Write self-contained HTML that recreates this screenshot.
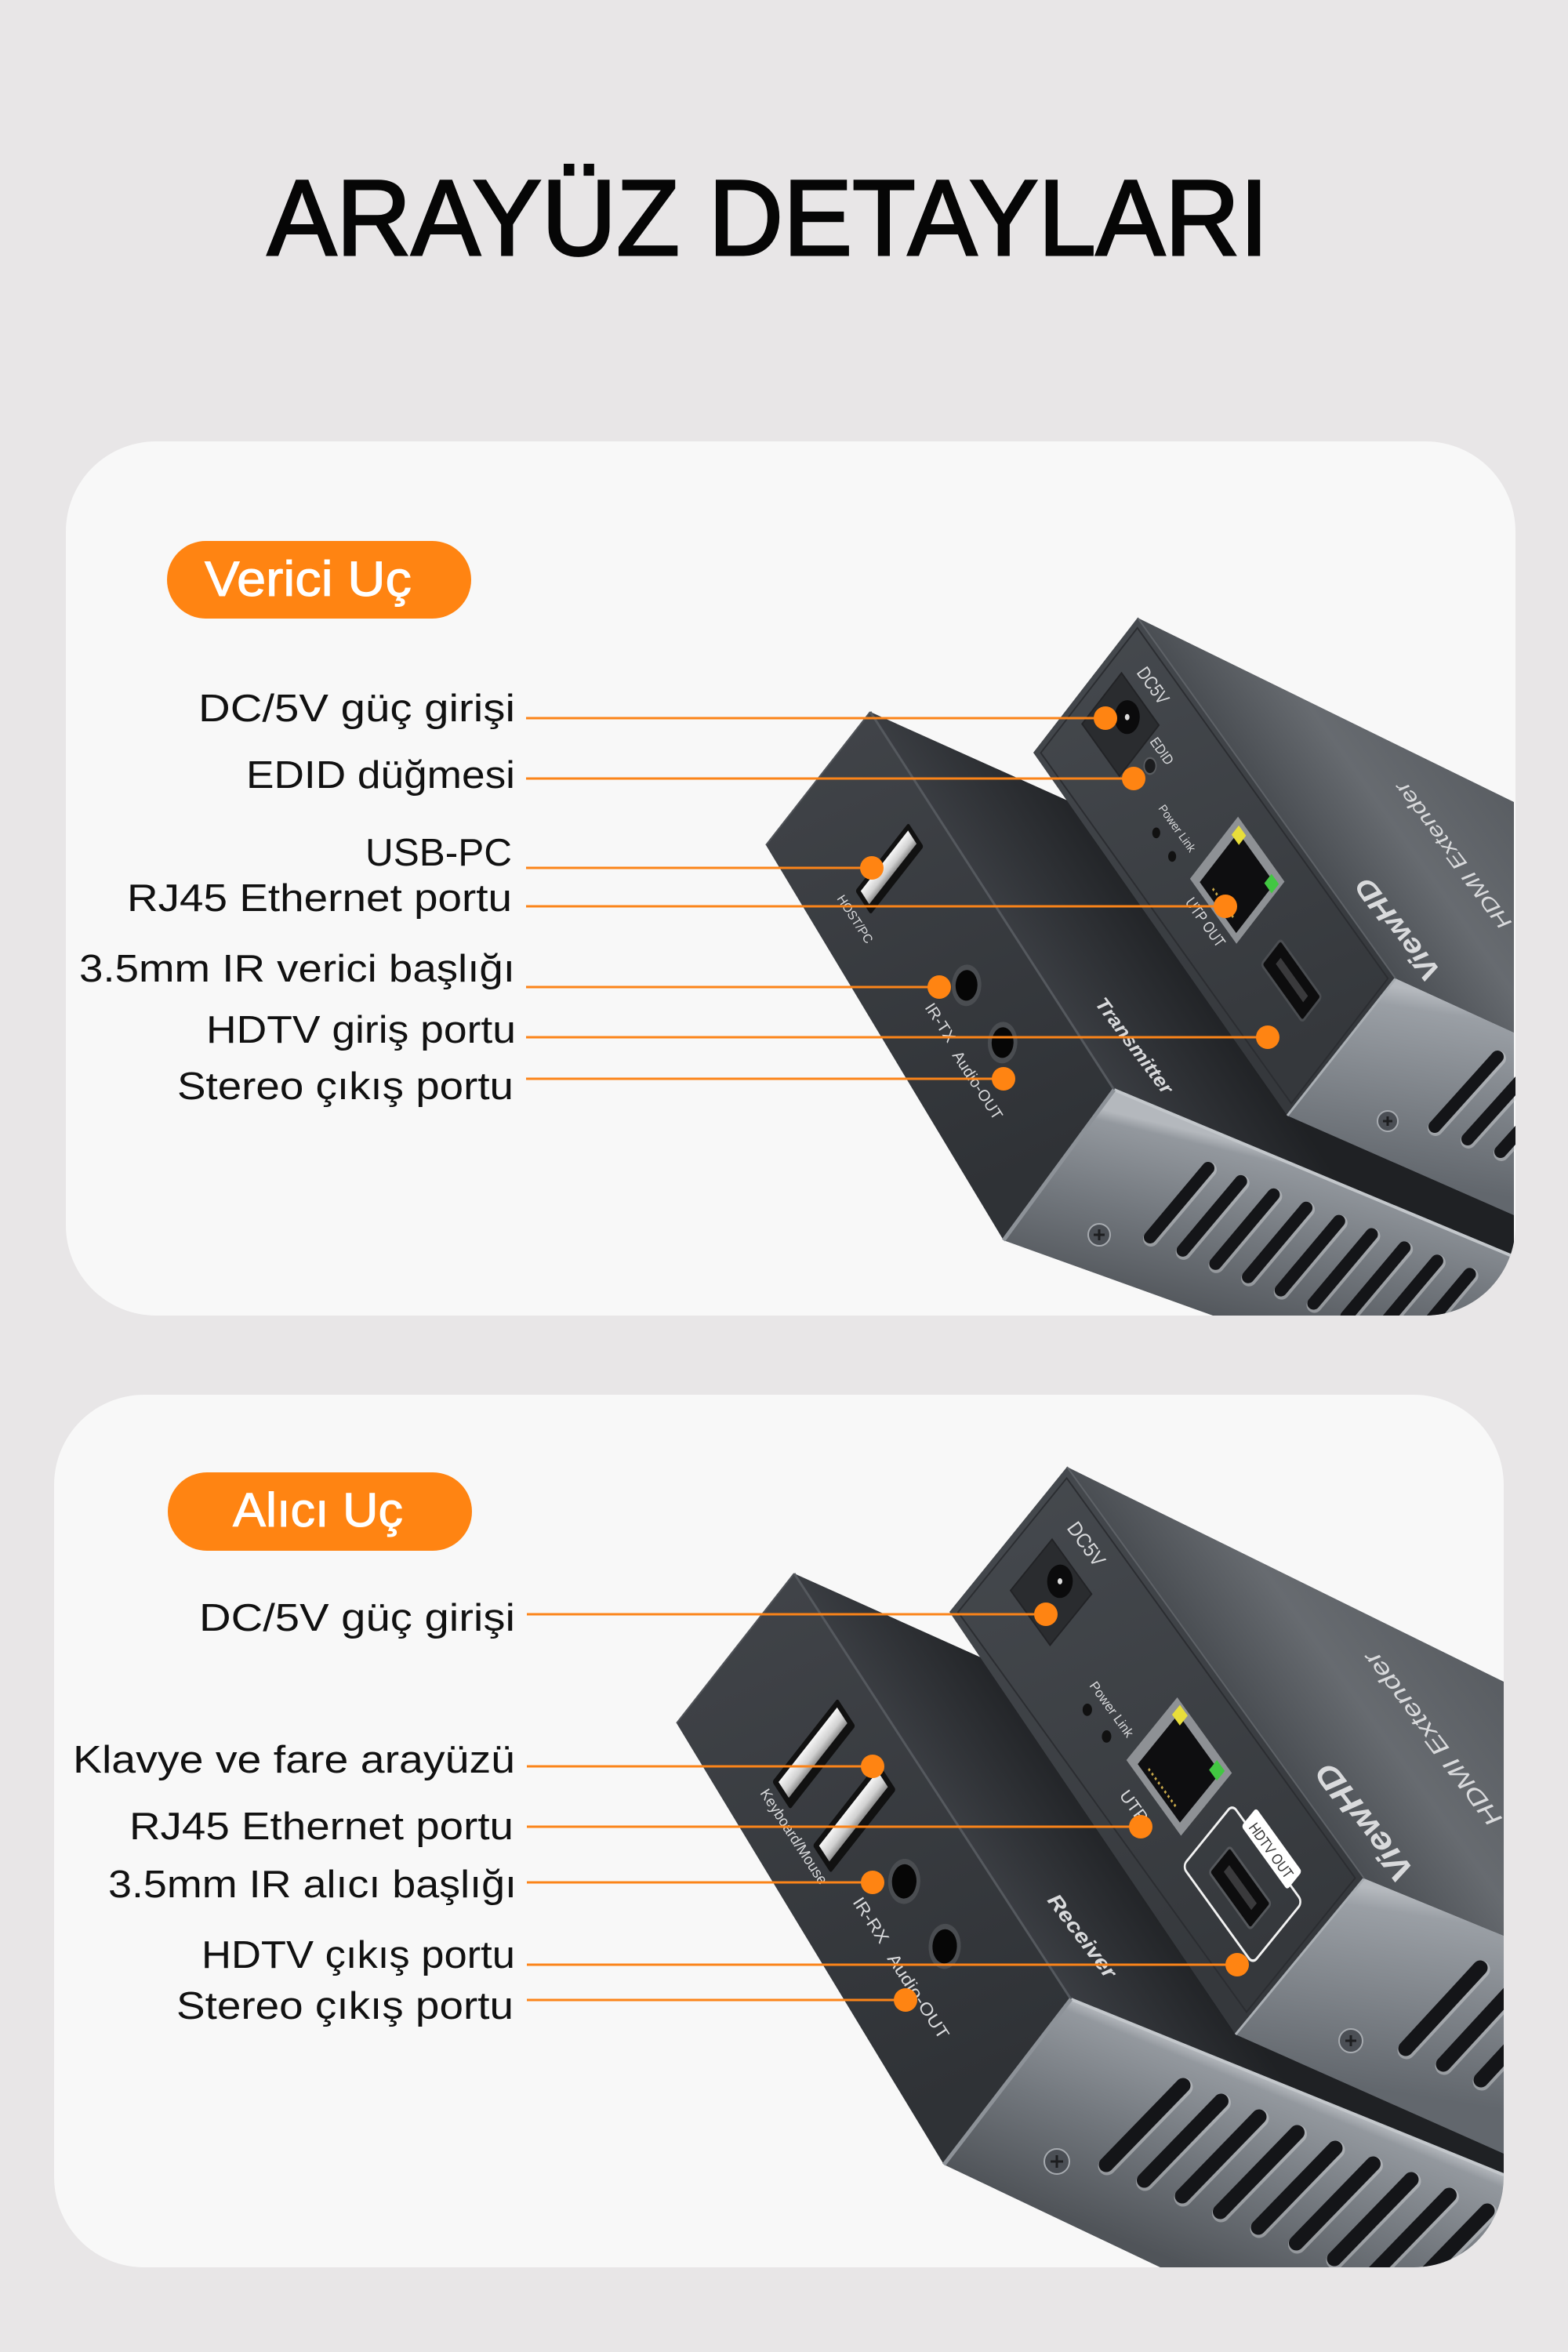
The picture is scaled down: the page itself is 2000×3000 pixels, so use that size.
<!DOCTYPE html>
<html><head><meta charset="utf-8">
<style>
html,body{margin:0;padding:0;background:#e8e6e7;}
svg{display:block;}
text{font-family:"Liberation Sans","DejaVu Sans",sans-serif;}
</style></head><body>
<svg width="2000" height="3000" viewBox="0 0 2000 3000" xmlns="http://www.w3.org/2000/svg">
<defs>
 <clipPath id="c1"><rect x="84" y="563" width="1849" height="1115" rx="115"/></clipPath>
 <clipPath id="c2"><rect x="69" y="1779" width="1849" height="1113" rx="115"/></clipPath>
 <linearGradient id="gEnd" x1="0" y1="0" x2="0.3" y2="1"><stop offset="0" stop-color="#464a4f"/><stop offset="1" stop-color="#35383c"/></linearGradient>
 <linearGradient id="gFEnd" x1="0" y1="0" x2="0.3" y2="1"><stop offset="0" stop-color="#42454a"/><stop offset="1" stop-color="#2f3236"/></linearGradient>
 <linearGradient id="gUsb" x1="0" y1="0" x2="0" y2="1"><stop offset="0" stop-color="#f7f7f7"/><stop offset="0.6" stop-color="#d0d0d0"/><stop offset="1" stop-color="#8d8d8d"/></linearGradient>
 <linearGradient id="gF1top" gradientUnits="userSpaceOnUse" x1="1265" y1="1149" x2="1416" y2="1052"><stop offset="0" stop-color="#3a3d42"/><stop offset="1" stop-color="#1f2124"/></linearGradient>
 <linearGradient id="gF1side" gradientUnits="userSpaceOnUse" x1="1600" y1="1462" x2="1545" y2="1690"><stop offset="0" stop-color="#b4b8bd"/><stop offset="0.06" stop-color="#93989e"/><stop offset="0.5" stop-color="#72777d"/><stop offset="1" stop-color="#505459"/></linearGradient>
 <linearGradient id="gB1top" gradientUnits="userSpaceOnUse" x1="1615" y1="1018" x2="1818" y2="873"><stop offset="0" stop-color="#4a4e53"/><stop offset="0.45" stop-color="#676b70"/><stop offset="1" stop-color="#5a5e63"/></linearGradient>
 <linearGradient id="gB1side" gradientUnits="userSpaceOnUse" x1="1800" y1="1262" x2="1760" y2="1500"><stop offset="0" stop-color="#b5b9be"/><stop offset="0.1" stop-color="#9a9fa5"/><stop offset="1" stop-color="#62676d"/></linearGradient>
 <linearGradient id="gF2top" gradientUnits="userSpaceOnUse" x1="1190" y1="2279" x2="1332" y2="2186"><stop offset="0" stop-color="#3a3d42"/><stop offset="1" stop-color="#1f2124"/></linearGradient>
 <linearGradient id="gF2side" gradientUnits="userSpaceOnUse" x1="1620" y1="2653" x2="1522" y2="2894"><stop offset="0" stop-color="#b4b8bd"/><stop offset="0.06" stop-color="#93989e"/><stop offset="0.5" stop-color="#72777d"/><stop offset="1" stop-color="#505459"/></linearGradient>
 <linearGradient id="gB2top" gradientUnits="userSpaceOnUse" x1="1550" y1="2133" x2="1777" y2="1969"><stop offset="0" stop-color="#4a4e53"/><stop offset="0.45" stop-color="#676b70"/><stop offset="1" stop-color="#5a5e63"/></linearGradient>
 <linearGradient id="gB2side" gradientUnits="userSpaceOnUse" x1="1760" y1="2410" x2="1720" y2="2660"><stop offset="0" stop-color="#b5b9be"/><stop offset="0.1" stop-color="#9a9fa5"/><stop offset="1" stop-color="#62676d"/></linearGradient>
</defs>

<rect width="2000" height="3000" fill="#e8e6e7"/>

<text x="341" y="325" font-size="137" textLength="1277" lengthAdjust="spacingAndGlyphs" fill="#060606" stroke="#060606" stroke-width="3">ARAYÜZ DETAYLARI</text>

<rect x="84" y="563" width="1849" height="1115" rx="115" fill="#f8f8f8"/>
<rect x="69" y="1779" width="1849" height="1113" rx="115" fill="#f8f8f8"/>

<g clip-path="url(#c1)">
 <polygon points="1110,908 1931,1277 1931,1603 1421,1390" fill="url(#gF1top)"/>
 <polygon points="1421,1390 1931,1603 1931,1816 1280,1582" fill="url(#gF1side)"/>
 <line x1="1421" y1="1390" x2="1931" y2="1603" stroke="#c3c7cb" stroke-width="4"/>
 <path d="M1541,1490L1467,1578M1582.7,1506.9L1508.7,1594.9M1624.4,1523.8L1550.4,1611.8M1666.1,1540.7L1592.1,1628.7M1707.8,1557.6L1633.8,1645.6M1749.5,1574.5L1675.5,1662.5M1791.2,1591.4L1717.2,1679.4M1832.9,1608.3L1758.9,1696.3M1874.6,1625.2L1800.6,1713.2M1916.3,1642.1L1842.3,1730.1" stroke="#d4d7da" stroke-opacity="0.45" stroke-width="20" stroke-linecap="round" transform="translate(1,2)"/>
 <path d="M1541,1490L1467,1578M1582.7,1506.9L1508.7,1594.9M1624.4,1523.8L1550.4,1611.8M1666.1,1540.7L1592.1,1628.7M1707.8,1557.6L1633.8,1645.6M1749.5,1574.5L1675.5,1662.5M1791.2,1591.4L1717.2,1679.4M1832.9,1608.3L1758.9,1696.3M1874.6,1625.2L1800.6,1713.2M1916.3,1642.1L1842.3,1730.1" stroke="#141518" stroke-width="16" stroke-linecap="round"/>
 <g transform="translate(1402,1575)"><circle r="14" fill="#4b4f55" stroke="#a7abb0" stroke-width="2"/><path d="M-7,0H7M0,-7V7" stroke="#1d1e20" stroke-width="3"/></g>
 <polygon points="1110,908 977,1078 1280,1582 1421,1390" fill="url(#gFEnd)"/>
 <line x1="1110" y1="908" x2="1421" y2="1390" stroke="#55595e" stroke-width="3"/>
 <line x1="1421" y1="1390" x2="1280" y2="1582" stroke="#8d9298" stroke-width="5"/>
 <line x1="1110" y1="908" x2="977" y2="1078" stroke="#505358" stroke-width="2"/>

 <polygon points="1451,788 1931,1023 1931,1317 1780,1248" fill="url(#gB1top)"/>
 <polygon points="1780,1248 1931,1317 1931,1550 1642,1423" fill="url(#gB1side)"/>
 <path d="M1910,1348L1830,1437M1952,1364L1872,1453M1994,1380L1914,1469" stroke="#d4d7da" stroke-opacity="0.45" stroke-width="20" stroke-linecap="round" transform="translate(1,2)"/>
 <path d="M1910,1348L1830,1437M1952,1364L1872,1453M1994,1380L1914,1469" stroke="#141518" stroke-width="16" stroke-linecap="round"/>
 <g transform="translate(1770,1430)"><circle r="13" fill="#4b4f55" stroke="#a7abb0" stroke-width="2"/><path d="M-6,0H6M0,-6V6" stroke="#1d1e20" stroke-width="3"/></g>
 <polygon points="1451,788 1318,960 1642,1423 1780,1248" fill="url(#gEnd)"/>
 <line x1="1780" y1="1248" x2="1642" y2="1423" stroke="#a9aeb3" stroke-width="3"/>
 <line x1="1451" y1="788" x2="1780" y2="1248" stroke="#5e6267" stroke-width="2"/>

 <g transform="matrix(-0.613,0.793,0.581,0.813,1451,788)">
  <rect x="8" y="8" width="201" height="550" fill="none" stroke="#2b2d31" stroke-width="2"/>
  <rect x="60" y="28" width="82" height="82" fill="#2a2c2f" stroke="#222326" stroke-width="2"/>
  <circle cx="88" cy="70" r="19" fill="#0b0b0c"/>
  <circle cx="88" cy="70" r="3.5" fill="#dddddd"/>
  <circle cx="101" cy="134" r="9" fill="#1c1d1f" stroke="#5a5d61" stroke-width="2"/>
  <circle cx="146" cy="195" r="6" fill="#111"/>
  <circle cx="147" cy="231" r="6" fill="#111"/>
  <rect x="45" y="268" width="100" height="102" fill="#8e9195"/>
  <rect x="57" y="281" width="80" height="80" fill="#0e0e10"/>
  <rect x="51" y="276" width="15" height="16" fill="#e8de3a"/>
  <rect x="53" y="350" width="15" height="16" fill="#42c742"/>
  <path d="M128,300V348" stroke="#c9a94a" stroke-width="3" stroke-dasharray="3 4"/>
  <rect x="94" y="413" width="40" height="90" rx="4" fill="#0d0d0e" stroke="#4a4d51" stroke-width="3"/>
  <rect x="108" y="428" width="10" height="60" fill="#3a3a3c"/>
 </g>
 <g transform="matrix(-0.616,0.787,0.542,0.840,1110,908)">
  <rect x="38" y="133" width="110" height="36" rx="3" fill="#111"/>
  <rect x="44" y="139" width="98" height="20" fill="url(#gUsb)"/>
  <circle cx="91" cy="330" r="23" fill="#4a4d51"/>
  <circle cx="91" cy="330" r="17" fill="#060606"/>
  <circle cx="92" cy="416" r="23" fill="#4a4d51"/>
  <circle cx="92" cy="416" r="17" fill="#060606"/>
 </g>
 <g fill="#d9dadc">
  <text transform="translate(1449,858) rotate(54.5)" font-size="24" textLength="52" lengthAdjust="spacingAndGlyphs">DC5V</text>
  <text transform="translate(1466,946) rotate(54.5)" font-size="18" textLength="38" lengthAdjust="spacingAndGlyphs">EDID</text>
  <text transform="translate(1477,1031) rotate(54.5)" font-size="15" textLength="70" lengthAdjust="spacingAndGlyphs">Power Link</text>
  <text transform="translate(1511,1151) rotate(54.5)" font-size="20" textLength="72" lengthAdjust="spacingAndGlyphs">UTP OUT</text>
  <text transform="translate(1067,1146) rotate(57)" font-size="16" textLength="70" lengthAdjust="spacingAndGlyphs">HOST/PC</text>
  <text transform="translate(1179,1285) rotate(57)" font-size="20" textLength="55" lengthAdjust="spacingAndGlyphs">IR-TX</text>
  <text transform="translate(1214,1346) rotate(57)" font-size="20" textLength="100" lengthAdjust="spacingAndGlyphs">Audio-OUT</text>
  <text transform="translate(1396,1280) rotate(53)" font-size="24" font-style="italic" font-weight="bold" textLength="147" lengthAdjust="spacingAndGlyphs">Transmitter</text>
  <text transform="translate(1929,1177) rotate(233)" font-size="26" font-style="italic" textLength="228" lengthAdjust="spacingAndGlyphs">HDMI Extender</text>
  <text transform="translate(1839,1240) rotate(233)" font-size="36" font-style="italic" font-weight="bold" textLength="155" lengthAdjust="spacingAndGlyphs">ViewHD</text>
 </g>
</g>

<g clip-path="url(#c2)">
 <polygon points="1013,2007 1918,2414 1918,2774 1366,2550" fill="url(#gF2top)"/>
 <polygon points="1366,2550 1918,2774 1918,3100 1204,2761" fill="url(#gF2side)"/>
 <line x1="1366" y1="2550" x2="1918" y2="2774" stroke="#c3c7cb" stroke-width="4"/>
 <path d="M1509,2660L1411,2761M1557.5,2680L1459.5,2781M1606,2700L1508,2801M1654.5,2720L1556.5,2821M1703,2740L1605,2841M1751.5,2760L1653.5,2861M1800,2780L1702,2881M1848.5,2800L1750.5,2901M1897,2820L1799,2921M1945.5,2840L1847.5,2941" stroke="#d4d7da" stroke-opacity="0.45" stroke-width="23" stroke-linecap="round" transform="translate(1,2)"/>
 <path d="M1509,2660L1411,2761M1557.5,2680L1459.5,2781M1606,2700L1508,2801M1654.5,2720L1556.5,2821M1703,2740L1605,2841M1751.5,2760L1653.5,2861M1800,2780L1702,2881M1848.5,2800L1750.5,2901M1897,2820L1799,2921M1945.5,2840L1847.5,2941" stroke="#141518" stroke-width="19" stroke-linecap="round"/>
 <g transform="translate(1348,2757)"><circle r="16" fill="#4b4f55" stroke="#a7abb0" stroke-width="2"/><path d="M-8,0H8M0,-8V8" stroke="#1d1e20" stroke-width="3"/></g>
 <polygon points="1013,2007 863,2198 1204,2761 1366,2550" fill="url(#gFEnd)"/>
 <line x1="1013" y1="2007" x2="1366" y2="2550" stroke="#55595e" stroke-width="3"/>
 <line x1="1366" y1="2550" x2="1204" y2="2761" stroke="#8d9298" stroke-width="5"/>
 <line x1="1013" y1="2007" x2="863" y2="2198" stroke="#505358" stroke-width="2"/>

 <polygon points="1361,1871 1918,2145 1918,2469 1740,2396" fill="url(#gB2top)"/>
 <polygon points="1740,2396 1918,2469 1918,2747 1576,2595" fill="url(#gB2side)"/>
 <path d="M1888,2510L1793,2613M1936,2530L1841,2633M1984,2550L1889,2653" stroke="#d4d7da" stroke-opacity="0.45" stroke-width="23" stroke-linecap="round" transform="translate(1,2)"/>
 <path d="M1888,2510L1793,2613M1936,2530L1841,2633M1984,2550L1889,2653" stroke="#141518" stroke-width="19" stroke-linecap="round"/>
 <g transform="translate(1723,2603)"><circle r="15" fill="#4b4f55" stroke="#a7abb0" stroke-width="2"/><path d="M-7,0H7M0,-7V7" stroke="#1d1e20" stroke-width="3"/></g>
 <polygon points="1361,1871 1211,2056 1576,2595 1740,2396" fill="url(#gEnd)"/>
 <line x1="1740" y1="2396" x2="1576" y2="2595" stroke="#a9aeb3" stroke-width="3"/>
 <line x1="1361" y1="1871" x2="1740" y2="2396" stroke="#5e6267" stroke-width="2"/>

 <g transform="matrix(-0.630,0.777,0.585,0.811,1361,1871)">
  <rect x="9" y="9" width="220" height="629" fill="none" stroke="#2b2d31" stroke-width="2"/>
  <rect x="72" y="45" width="84" height="86" fill="#2a2c2f" stroke="#222326" stroke-width="2"/>
  <circle cx="96" cy="88" r="19" fill="#0b0b0c"/>
  <circle cx="96" cy="88" r="3.5" fill="#dddddd"/>
  <circle cx="166" cy="223" r="7" fill="#111"/>
  <circle cx="166" cy="265" r="7" fill="#111"/>
  <rect x="60" y="305" width="103" height="119" fill="#8e9195"/>
  <rect x="72" y="320" width="82" height="92" fill="#0e0e10"/>
  <rect x="63" y="314" width="16" height="17" fill="#e8de3a"/>
  <rect x="66" y="398" width="16" height="17" fill="#42c742"/>
  <path d="M146,335V395" stroke="#c9a94a" stroke-width="3" stroke-dasharray="3 4"/>
  <rect x="84" y="451" width="101" height="153" rx="8" fill="none" stroke="#f2f2f2" stroke-width="3"/>
  <rect x="61" y="478" width="30" height="100" rx="4" fill="#ffffff"/>
  <rect x="119" y="483" width="42" height="90" rx="4" fill="#0d0d0e" stroke="#55585c" stroke-width="3"/>
  <rect x="134" y="498" width="11" height="60" fill="#3a3a3c"/>
 </g>
 <g transform="matrix(-0.617,0.786,0.545,0.838,1013,2007)">
  <rect x="43" y="150" width="135" height="42" rx="3" fill="#111"/>
  <rect x="50" y="157" width="121" height="24" fill="url(#gUsb)"/>
  <rect x="44" y="246" width="135" height="42" rx="3" fill="#111"/>
  <rect x="51" y="253" width="121" height="24" fill="url(#gUsb)"/>
  <circle cx="102" cy="373" r="25" fill="#4a4d51"/>
  <circle cx="102" cy="373" r="19" fill="#060606"/>
  <circle cx="104" cy="470" r="25" fill="#4a4d51"/>
  <circle cx="104" cy="470" r="19" fill="#060606"/>
 </g>
 <g fill="#d9dadc">
  <text transform="translate(1360,1949) rotate(54.2)" font-size="26" textLength="63" lengthAdjust="spacingAndGlyphs">DC5V</text>
  <text transform="translate(1389,2150) rotate(54.2)" font-size="17" textLength="83" lengthAdjust="spacingAndGlyphs">Power Link</text>
  <text transform="translate(1427,2290) rotate(54.2)" font-size="22" textLength="45" lengthAdjust="spacingAndGlyphs">UTP</text>
  <text transform="translate(969,2287) rotate(57)" font-size="19" textLength="141" lengthAdjust="spacingAndGlyphs">Keyboard/Mouse</text>
  <text transform="translate(1087,2426) rotate(57)" font-size="22" textLength="65" lengthAdjust="spacingAndGlyphs">IR-RX</text>
  <text transform="translate(1131,2498) rotate(57)" font-size="22" textLength="125" lengthAdjust="spacingAndGlyphs">Audio-OUT</text>
  <text transform="translate(1335,2424) rotate(53)" font-size="26" font-style="italic" font-weight="bold" textLength="127" lengthAdjust="spacingAndGlyphs">Receiver</text>
  <text transform="translate(1917,2320) rotate(233)" font-size="30" font-style="italic" textLength="271" lengthAdjust="spacingAndGlyphs">HDMI Extender</text>
  <text transform="translate(1805,2387) rotate(233)" font-size="42" font-style="italic" font-weight="bold" textLength="178" lengthAdjust="spacingAndGlyphs">ViewHD</text>
 </g>
 <text transform="translate(1592,2331) rotate(54.2)" font-size="19" fill="#333" textLength="82" lengthAdjust="spacingAndGlyphs">HDTV OUT</text>
</g>

<rect x="213" y="690" width="388" height="99" rx="49.5" fill="#ff8412"/>
<text x="261" y="760" font-size="63" textLength="264" lengthAdjust="spacingAndGlyphs" fill="#fff" stroke="#fff" stroke-width="1">Verici Uç</text>
<rect x="214" y="1878" width="388" height="100" rx="50" fill="#ff8412"/>
<text x="297" y="1947" font-size="61" textLength="217" lengthAdjust="spacingAndGlyphs" fill="#fff" stroke="#fff" stroke-width="1">Alıcı Uç</text>

<g font-size="49" fill="#111">
 <text x="253" y="920" textLength="404" lengthAdjust="spacingAndGlyphs">DC/5V güç girişi</text>
 <text x="314" y="1005" textLength="343" lengthAdjust="spacingAndGlyphs">EDID düğmesi</text>
 <text x="466" y="1104" textLength="187" lengthAdjust="spacingAndGlyphs">USB-PC</text>
 <text x="162" y="1162" textLength="491" lengthAdjust="spacingAndGlyphs">RJ45 Ethernet portu</text>
 <text x="101" y="1252" textLength="556" lengthAdjust="spacingAndGlyphs">3.5mm IR verici başlığı</text>
 <text x="263" y="1330" textLength="395" lengthAdjust="spacingAndGlyphs">HDTV giriş portu</text>
 <text x="226" y="1402" textLength="429" lengthAdjust="spacingAndGlyphs">Stereo çıkış portu</text>

 <text x="254" y="2080" textLength="403" lengthAdjust="spacingAndGlyphs">DC/5V güç girişi</text>
 <text x="93" y="2261" textLength="564" lengthAdjust="spacingAndGlyphs">Klavye ve fare arayüzü</text>
 <text x="165" y="2346" textLength="490" lengthAdjust="spacingAndGlyphs">RJ45 Ethernet portu</text>
 <text x="138" y="2420" textLength="521" lengthAdjust="spacingAndGlyphs">3.5mm IR alıcı başlığı</text>
 <text x="257" y="2510" textLength="400" lengthAdjust="spacingAndGlyphs">HDTV çıkış portu</text>
 <text x="225" y="2575" textLength="430" lengthAdjust="spacingAndGlyphs">Stereo çıkış portu</text>
</g>

<g stroke="#fb8419" stroke-width="3">
 <line x1="671" y1="916" x2="1410" y2="916"/>
 <line x1="671" y1="993" x2="1446" y2="993"/>
 <line x1="671" y1="1107" x2="1112" y2="1107"/>
 <line x1="671" y1="1156" x2="1563" y2="1156"/>
 <line x1="671" y1="1259" x2="1198" y2="1259"/>
 <line x1="671" y1="1323" x2="1617" y2="1323"/>
 <line x1="671" y1="1376" x2="1280" y2="1376"/>
 <line x1="672" y1="2059" x2="1334" y2="2059"/>
 <line x1="672" y1="2253" x2="1113" y2="2253"/>
 <line x1="672" y1="2330" x2="1455" y2="2330"/>
 <line x1="672" y1="2401" x2="1113" y2="2401"/>
 <line x1="672" y1="2506" x2="1578" y2="2506"/>
 <line x1="672" y1="2551" x2="1155" y2="2551"/>
</g>
<g fill="#ff8412">
 <circle cx="1410" cy="916" r="15"/>
 <circle cx="1446" cy="993" r="15"/>
 <circle cx="1112" cy="1107" r="15"/>
 <circle cx="1563" cy="1156" r="15"/>
 <circle cx="1198" cy="1259" r="15"/>
 <circle cx="1617" cy="1323" r="15"/>
 <circle cx="1280" cy="1376" r="15"/>
 <circle cx="1334" cy="2059" r="15"/>
 <circle cx="1113" cy="2253" r="15"/>
 <circle cx="1455" cy="2330" r="15"/>
 <circle cx="1113" cy="2401" r="15"/>
 <circle cx="1578" cy="2506" r="15"/>
 <circle cx="1155" cy="2551" r="15"/>
</g>
</svg>
</body></html>
